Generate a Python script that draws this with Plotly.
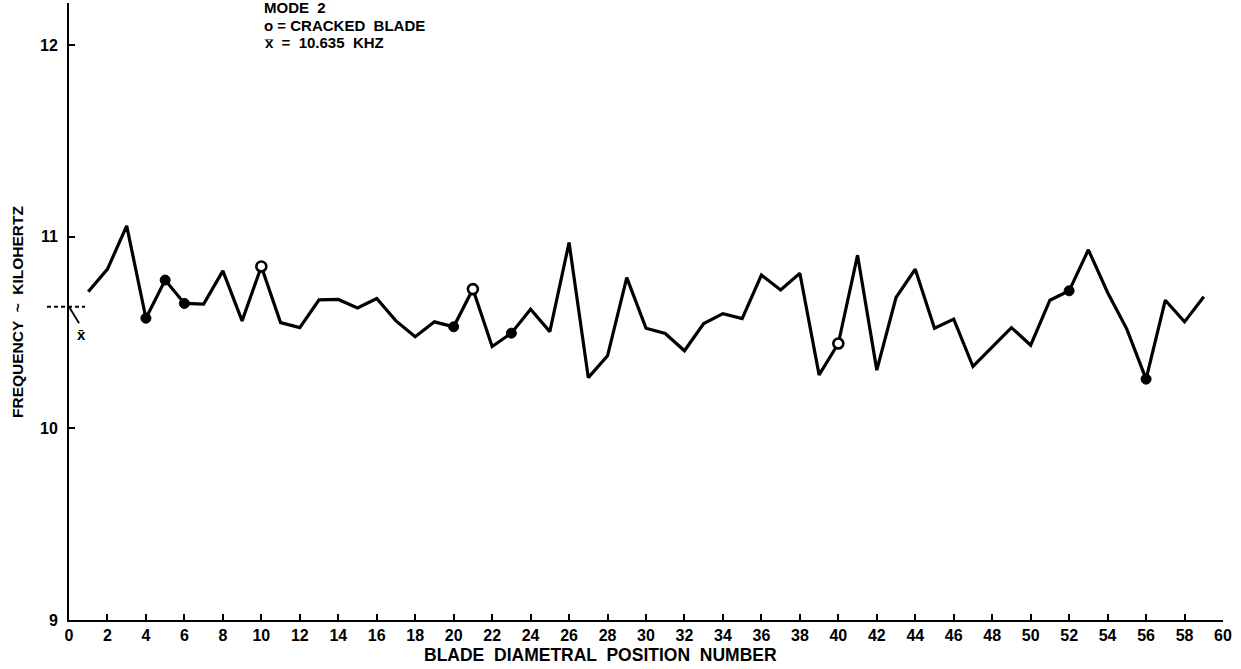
import plotly.graph_objects as go

# Mode 2 natural frequency of each blade around the disk
positions = list(range(1, 60))
freq_khz = [10.713, 10.831, 11.057, 10.575, 10.774, 10.652, 10.649, 10.822, 10.561, 10.845,
            10.552, 10.526, 10.671, 10.673, 10.628, 10.678, 10.561, 10.478, 10.556, 10.530,
            10.727, 10.427, 10.497, 10.622, 10.505, 10.970, 10.265, 10.379, 10.787, 10.523,
            10.495, 10.405, 10.547, 10.599, 10.573, 10.800, 10.722, 10.810, 10.279, 10.443,
            10.904, 10.304, 10.683, 10.831, 10.523, 10.570, 10.323, 10.426, 10.526, 10.434,
            10.669, 10.718, 10.932, 10.709, 10.518, 10.257, 10.669, 10.556, 10.687]

# cracked blades: hollow circles and dark-ringed circles
cracked_open = [10, 21, 40]
cracked_dark = [4, 5, 6, 20, 23, 52, 56]

mean_khz = 10.635
x_ticks = list(range(0, 61, 2))
y_ticks = [9, 10, 11, 12]
y_range = [9, 12.22]
x_range = [0, 60]

FONT = "Liberation Sans"
TICK = dict(family=FONT, size=16, color="black", weight="bold")

# plot area in pixels (left, right, top, bottom)
L, R, T, B = 69, 1223, 3, 620
W, H = R - L, B - T


def px_x(p):
    return (p - L) / W


def px_y(p):
    return (B - p) / H


fig = go.Figure()
fig.add_trace(go.Scatter(x=positions, y=freq_khz, mode="lines",
                         line=dict(color="black", width=3.2), showlegend=False,
                         hoverinfo="skip"))
fig.add_trace(go.Scatter(x=cracked_dark, y=[freq_khz[p - 1] for p in cracked_dark],
                         mode="markers", showlegend=False, cliponaxis=False,
                         marker=dict(symbol="circle", size=10, color="black",
                                     line=dict(color="black", width=1))))
fig.add_trace(go.Scatter(x=cracked_open, y=[freq_khz[p - 1] for p in cracked_open],
                         mode="markers", showlegend=False, cliponaxis=False,
                         marker=dict(symbol="circle", size=10, color="white",
                                     line=dict(color="black", width=2.6))))

# mean marker on the frequency axis
ym = (mean_khz - y_range[0]) / (y_range[1] - y_range[0])
fig.add_shape(type="line", xref="paper", yref="paper", x0=px_x(47), x1=px_x(85), y0=ym, y1=ym,
              line=dict(color="black", width=2, dash="4px,3px"))
fig.add_annotation(xref="paper", yref="paper", x=0.0, y=ym, ax=11, ay=18,
                   showarrow=True, arrowhead=0, arrowwidth=1.8, arrowcolor="black",
                   text="")
fig.add_annotation(xref="paper", yref="paper", x=px_x(81), y=ym, xanchor="center",
                   yanchor="top", yshift=-17, text="x\u0304", showarrow=False,
                   font=dict(family=FONT, size=15, color="black", weight="bold"))

# key text
key_font = dict(family=FONT, size=15, color="black", weight="bold")
for txt, ypix in [("MODE  2", 8), ("o = CRACKED  BLADE", 26), ("x\u0305  =  10.635  KHZ", 43)]:
    fig.add_annotation(xref="paper", yref="paper", x=px_x(262), y=px_y(ypix),
                       xanchor="left", yanchor="middle", text=txt, showarrow=False,
                       font=key_font)

# axis titles
fig.add_annotation(xref="paper", yref="paper", x=px_x(600), y=px_y(655),
                   xanchor="center", yanchor="middle", showarrow=False,
                   text="BLADE  DIAMETRAL  POSITION  NUMBER",
                   font=dict(family=FONT, size=17.5, color="black", weight="bold"))
fig.add_annotation(xref="paper", yref="paper", x=px_x(17), y=px_y(312),
                   xanchor="center", yanchor="middle", showarrow=False, textangle=-90,
                   text="FREQUENCY  ~  KILOHERTZ",
                   font=dict(family=FONT, size=15.5, color="black", weight="bold"))

fig.update_xaxes(range=x_range, tickvals=x_ticks, ticks="inside", ticklen=6,
                 tickwidth=1.5, tickcolor="black", showline=True, linecolor="black",
                 linewidth=1.8, showgrid=False, zeroline=False, tickfont=TICK)
fig.update_yaxes(range=y_range, tickvals=y_ticks, ticks="inside", ticklen=6,
                 tickwidth=1.5, tickcolor="black", showline=True, linecolor="black",
                 linewidth=1.8, showgrid=False, zeroline=False, tickfont=TICK,
                 ticklabelstandoff=6)

fig.update_layout(width=1241, height=669, plot_bgcolor="white", paper_bgcolor="white",
                  margin=dict(l=L, r=1241 - R, t=T, b=669 - B), showlegend=False)

fig.write_html("out.html")
